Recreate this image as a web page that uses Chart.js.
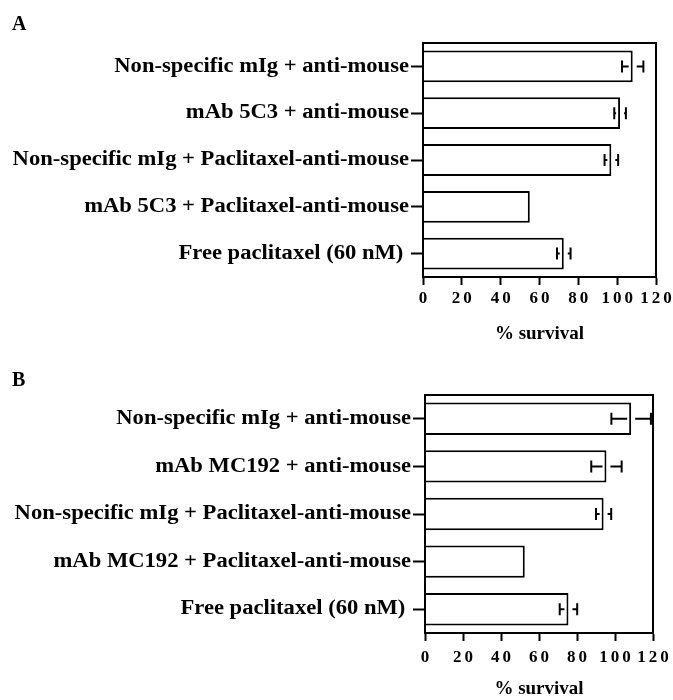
<!DOCTYPE html>
<html>
<head>
<meta charset="utf-8">
<script src="https://cdn.jsdelivr.net/npm/chart.js@4.4.1/dist/chart.umd.min.js"></script>
<style>
  html, body { margin:0; padding:0; background:#fff; }
  #wrap { position:relative; width:673px; height:700px; }
  .panel { position:absolute; left:0; width:673px; height:350px; }
  .tag { position:absolute; left:12px; font:bold 20px "Liberation Serif", serif; color:#000; }
</style>
</head>
<body>
<div id="wrap">
  <div class="panel" style="top:0"><canvas id="cA" width="673" height="350"></canvas></div>
  <div class="panel" style="top:350px"><canvas id="cB" width="673" height="350"></canvas></div>
  <div class="tag" style="top:12px">A</div>
  <div class="tag" style="top:368px">B</div>
</div>
<script>
/* ---------- data ---------- */
const catsA = [
  'Non-specific mIg + anti-mouse',
  'mAb 5C3 + anti-mouse',
  'Non-specific mIg + Paclitaxel-anti-mouse',
  'mAb 5C3 + Paclitaxel-anti-mouse',
  'Free paclitaxel (60 nM) '
];
const valsA = [108, 101.5, 97, 55, 72.5];
const errA  = [5.5, 3, 3.5, 0, 3.5];

const catsB = [
  'Non-specific mIg + anti-mouse',
  'mAb MC192 + anti-mouse',
  'Non-specific mIg + Paclitaxel-anti-mouse',
  'mAb MC192 + Paclitaxel-anti-mouse',
  'Free paclitaxel (60 nM) '
];
const valsB = [108.5, 95.5, 94, 52.5, 75.5];
const errB  = [10.4, 8, 4, 0, 4.6];

const xTicks  = [0, 20, 40, 60, 80, 100, 120];
const xTitle  = '% survival';

/* ---------- helpers ---------- */
const SERIF = '"Liberation Serif", "Times New Roman", serif';

// whiskers drawn off the bar scale, small gap round the bar end
const errorBars = err => ({
  id:'errorBars',
  afterDatasetsDraw(chart){
    const { ctx, scales:{ x } } = chart;
    const vals = chart.data.datasets[0].data;
    ctx.save();
    ctx.strokeStyle = '#000'; ctx.lineWidth = 2;
    chart.getDatasetMeta(0).data.forEach((bar, i) => {
      const e = err[i]; if (!e) return;
      const lo = x.getPixelForValue(vals[i] - e);
      const hi = x.getPixelForValue(vals[i] + e);
      const end = bar.x, y = bar.y;
      ctx.beginPath();
      ctx.moveTo(lo, y);      ctx.lineTo(end - 4, y);
      ctx.moveTo(end + 4, y); ctx.lineTo(hi, y);
      ctx.moveTo(lo, y - 6);  ctx.lineTo(lo, y + 6);
      ctx.moveTo(hi, y - 6);  ctx.lineTo(hi, y + 6);
      ctx.stroke();
    });
    ctx.restore();
  }
});

// closed frame + hand-set tick labels (spaced digits, wide serif categories)
const frameAndLabels = labelDy => ({
  id:'frameAndLabels',
  afterDraw(chart){
    const { ctx, chartArea:a, scales:{ x, y } } = chart;
    ctx.save();
    ctx.strokeStyle = '#000'; ctx.lineWidth = 2;
    ctx.strokeRect(a.left, a.top, a.right - a.left, a.bottom - a.top);
    ctx.fillStyle = '#000';
    ctx.textBaseline = 'middle';

    ctx.font = `bold 17px ${SERIF}`;
    ctx.letterSpacing = '3px';
    ctx.textAlign = 'center';
    x.ticks.forEach(t => ctx.fillText(String(t.value), x.getPixelForValue(t.value) + 1.5, a.bottom + labelDy));

    ctx.font = `bold 20px ${SERIF}`;
    ctx.letterSpacing = '0px';
    ctx.textAlign = 'right';
    chart.data.labels.forEach((lab, i) => {
      ctx.save();
      ctx.translate(a.left - 14, y.getPixelForTick(i));
      ctx.scale(1.13, 1);                 // reference face runs wider than Times
      ctx.fillText(lab, 0, 0);
      ctx.restore();
    });
    ctx.restore();
  }
});

function build (canvas, cats, vals, err, g) {
  return new Chart(canvas, {
    type:'bar',
    data:{ labels:cats,
           datasets:[{ data:vals, backgroundColor:'#fff', borderColor:'#000', borderWidth:2,
                       categoryPercentage:1, barPercentage:0.68 }] },
    options:{
      indexAxis:'y', responsive:false, animation:false,
      layout:{ padding:{ top:g.top, right:g.right, left:0, bottom:0 } },
      plugins:{ legend:{ display:false }, tooltip:{ enabled:false } },
      scales:{
        x:{ min:0, max:120,
            afterBuildTicks: s => { s.ticks = xTicks.map(v => ({ value:v })); },
            afterFit: s => { s.height = g.xh; },
            grid:{ drawOnChartArea:false, drawTicks:true, tickLength:8, tickWidth:2, tickColor:'#000' },
            border:{ display:true, color:'#000', width:2 },
            ticks:{ color:'rgba(0,0,0,0)', font:{ family:SERIF, size:17, weight:'bold' } },
            title:{ display:true, text:xTitle, color:'#000',
                    font:{ family:SERIF, size:19, weight:'bold' }, padding:{ top:0, bottom:g.tpad } } },
        y:{ afterFit: s => { s.width = g.left; },
            grid:{ offset:false, drawOnChartArea:false, drawTicks:true, tickLength:12, tickWidth:2, tickColor:'#000' },
            border:{ display:true, color:'#000', width:2 },
            ticks:{ color:'rgba(0,0,0,0)', padding:2, font:{ family:SERIF, size:20, weight:'bold' } } }
      }
    },
    plugins:[ errorBars(err), frameAndLabels(g.labelDy) ]
  });
}

build(document.getElementById('cA'), catsA, valsA, errA,
      { top:43, right:17, left:423, xh:73, tpad:5, labelDy:22 });
build(document.getElementById('cB'), catsB, valsB, errB,
      { top:45, right:20, left:425, xh:67, tpad:0, labelDy:25 });
</script>
</body>
</html>
